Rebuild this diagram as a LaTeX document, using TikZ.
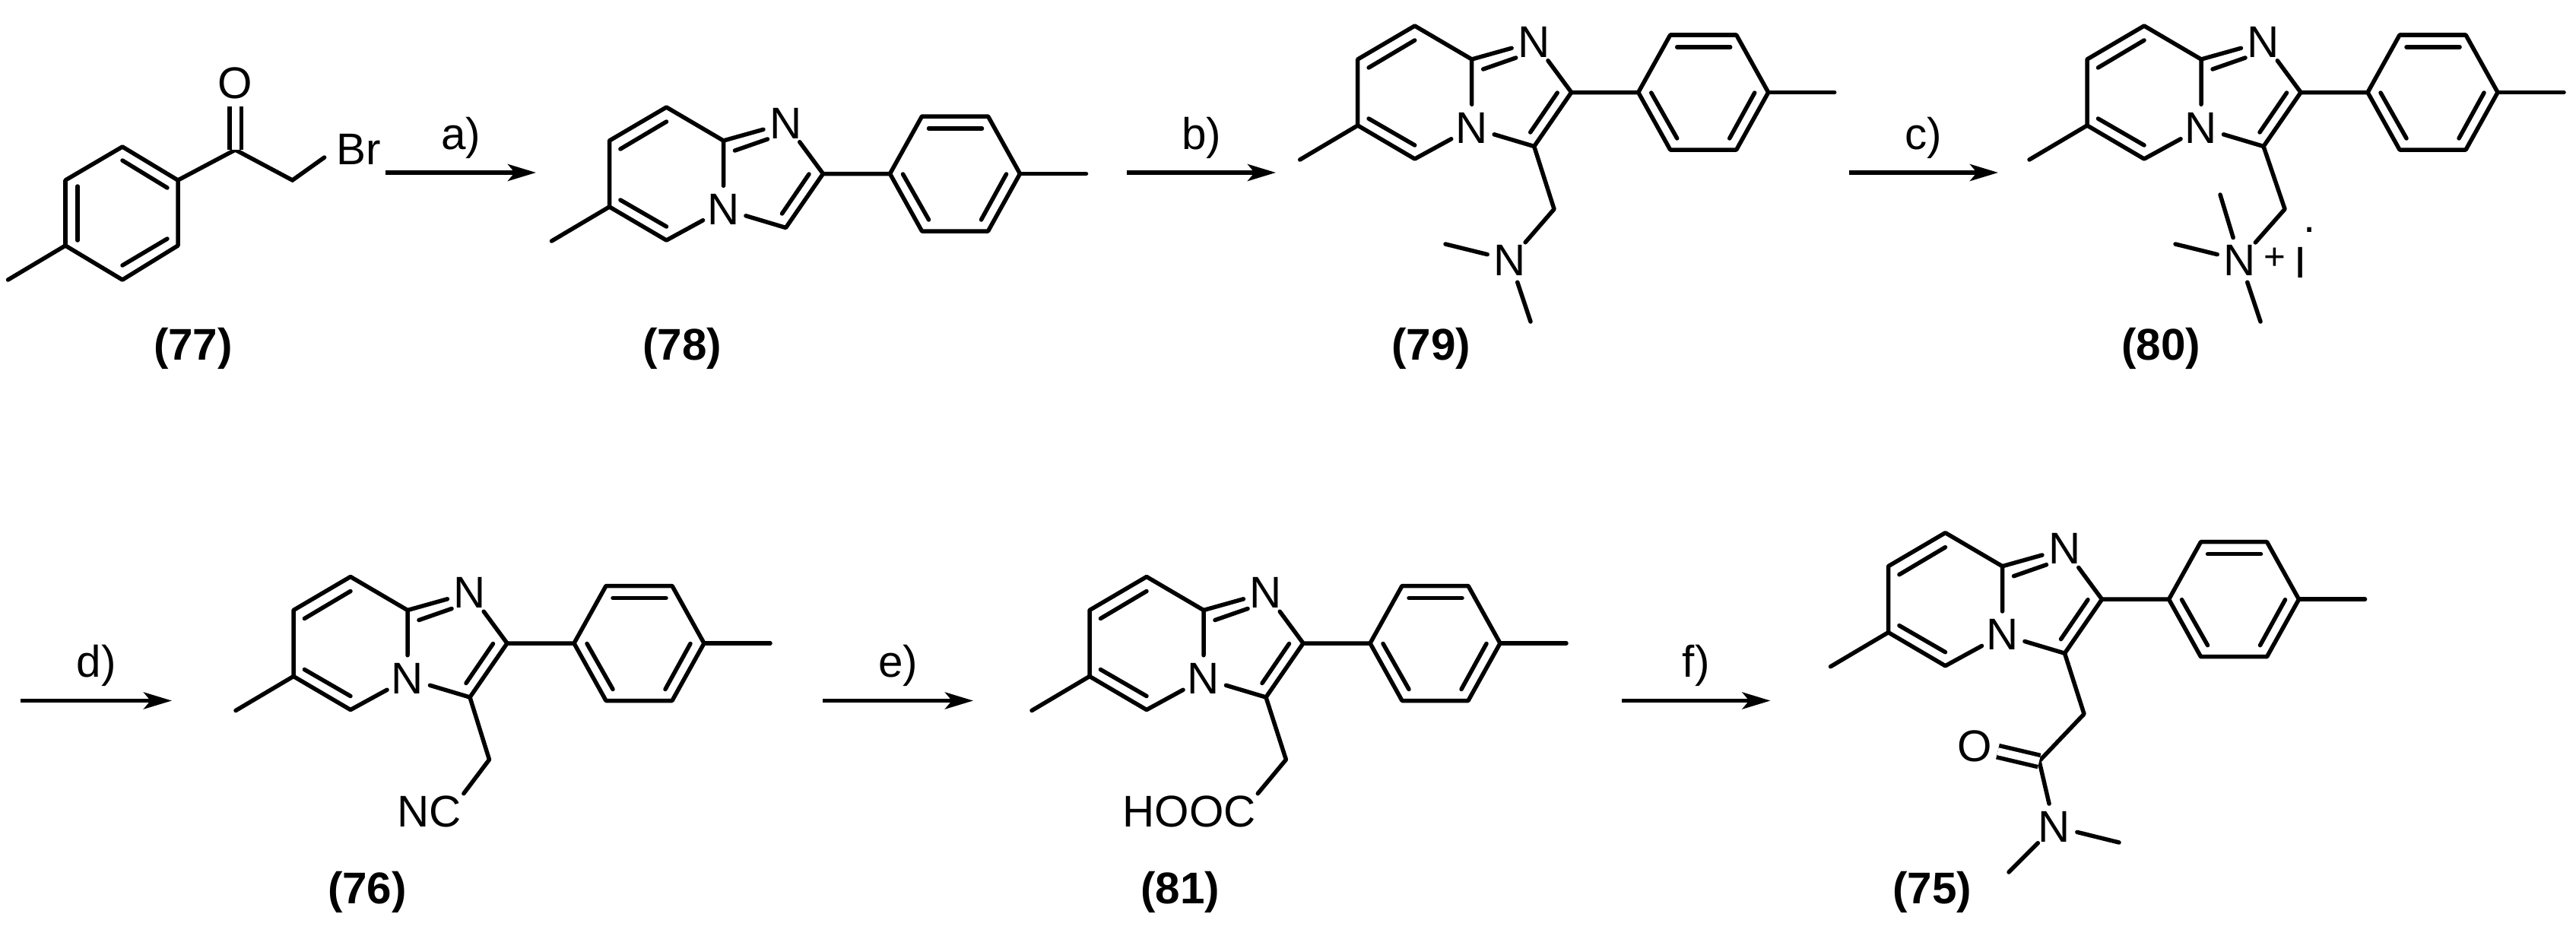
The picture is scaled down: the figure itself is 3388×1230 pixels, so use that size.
\documentclass[tikz,border=0pt]{standalone}
\usepackage{fontspec}
\setmainfont{Liberation Sans}
\usetikzlibrary{arrows.meta,positioning}

\tikzset{
  bond/.style={line width=.055cm,line join=round,line cap=round},
  dbond/.style={bond,line cap=butt,double,double distance=.1cm},
  atom/.style={circle,minimum size=.6cm,inner sep=0pt,font=\fontsize{16.6}{20}\selectfont},
  chem/.style={inner sep=.02cm,font=\fontsize{16.6}{20}\selectfont},
  tag/.style={inner sep=0pt,font=\fontsize{16.6}{20}\selectfont\bfseries},
  rxn/.style={line width=.055cm,-{Stealth[length=.37cm,width=.22cm,inset=.09cm]}}
}

% bicycle with the tolyl group, #1 = prefix, (#2,#3) = top corner of the six-ring
\newcommand{\corering}[3]{
  \begin{scope}[shift={(#2,#3)}]
    \coordinate (#1top) at (0,0);
    \coordinate (#1ul) at (-75,44);
    \coordinate (#1ll) at (-75,131);
    \coordinate (#1bot) at (0,175);
    \coordinate (#1me) at (-151,176);
    \coordinate (#1ca) at (75,44);
    \coordinate (#1ctwo) at (206,87.5);
    \coordinate (#1cthree) at (157,158.5);
    \node[atom] (#1nb) at (75,134) {N};
    \node[atom] (#1nt) at (157,21) {N};
    \coordinate (#1l) at (294,87.5);
    \coordinate (#1tl) at (336,12);
    \coordinate (#1tr) at (423,12);
    \coordinate (#1r) at (465,87.5);
    \coordinate (#1br) at (423,163);
    \coordinate (#1bl) at (336,163);
    \coordinate (#1mer) at (552,87.5);
    \draw[bond] (#1me) -- (#1ll) -- (#1ul) -- (#1top) -- (#1ca) -- (#1nb);
    \draw[bond] (#1ll) -- (#1bot) -- (#1nb) -- (#1cthree) -- (#1ctwo) -- (#1nt) -- (#1ca);
    \draw[bond] (0,19) -- (-60.6,55);
    \draw[bond] (-60.6,122) -- (0,157);
    \draw[bond] (90,57) -- (133,42);
    \draw[bond] (187.5,88) -- (152,140);
    \draw[bond] (#1ctwo) -- (#1l) -- (#1tl) -- (#1tr) -- (#1r) -- (#1br) -- (#1bl) -- (#1l);
    \draw[bond] (#1r) -- (#1mer);
    \draw[bond] (345,28) -- (415,28);
    \draw[bond] (311,88) -- (345,148);
    \draw[bond] (447,88) -- (414,148);
  \end{scope}
}

\begin{document}
\begin{tikzpicture}[x=.01cm,y=-.01cm]
  \useasboundingbox (0,0) rectangle (3388,1230);

  % (77)
  \coordinate (rt) at (161,193);
  \coordinate (rur) at (234,237);
  \coordinate (rlr) at (234,323);
  \coordinate (rb) at (161,368);
  \coordinate (rll) at (86,323);
  \coordinate (rul) at (86,237);
  \coordinate (rme) at (10.5,368);
  \coordinate (cone) at (309.5,197);
  \coordinate (chtwo) at (384.6,237);
  \node[atom] (oxo) at (309.5,109) {O};
  \node[chem,inner sep=0pt] (brom) at (472,196) {Br};
  \draw[bond] (rme) -- (rll) -- (rul) -- (rt) -- (rur) -- (rlr) -- (rb) -- (rll);
  \draw[bond] (rur) -- (cone) -- (chtwo);
  \draw[bond,shorten >=.19cm] (chtwo) -- (brom.west);
  \draw[dbond] (oxo) -- (cone);
  \draw[bond] (161,211) -- (220,247);
  \draw[bond] (102,245) -- (102,316);
  \draw[bond] (161,349) -- (220,314);
  \node[tag] (t77) at (254,458) {(77)};

  % (78)
  \corering{mb}{876.5}{141}
  \node[tag] (t78) at (897,458) {(78)};

  % (79)
  \corering{mc}{1860.7}{34}
  \coordinate (mcch) at (2044,275);
  \node[atom] (mcn) at (1986,342) {N};
  \coordinate (mcmea) at (1901,321);
  \coordinate (mcmeb) at (2013,423);
  \draw[bond] (mccthree) -- (mcch) -- (mcn);
  \draw[bond] (mcn) -- (mcmea);
  \draw[bond] (mcn) -- (mcmeb);
  \node[tag] (t79) at (1882,458) {(79)};

  % (80)
  \corering{md}{2820}{34}
  \coordinate (mdch) at (3005,275);
  \node[atom] (mdn) at (2946,342) {N};
  \node[chem,font=\fontsize{14}{16}\selectfont] (plus) at (2992,340) {+};
  \node[chem] (iod) at (3026,345) {I};
  \node[chem,inner sep=0pt] (dot) at (3038,302) {.};
  \coordinate (mdmea) at (2861,321);
  \coordinate (mdmeb) at (2973,423);
  \coordinate (mdmec) at (2920,256);
  \draw[bond] (mdcthree) -- (mdch) -- (mdn);
  \draw[bond] (mdn) -- (mdmea);
  \draw[bond] (mdn) -- (mdmeb);
  \draw[bond] (mdn) -- (mdmec);
  \node[tag] (t80) at (2842,458) {(80)};

  % (76)
  \corering{me}{461}{758.5}
  \coordinate (mech) at (643.5,999);
  \node[chem] (nitrile) at (565,1067) {NC};
  \draw[bond] (mecthree) -- (mech) -- (nitrile.north east);
  \node[tag] (t76) at (483,1173) {(76)};

  % (81)
  \corering{mf}{1508}{758.5}
  \coordinate (mfch) at (1691.4,999);
  \node[chem] (acid) at (1564,1067) {HOOC};
  \draw[bond] (mfcthree) -- (mfch) -- (acid.north east);
  \node[tag] (t81) at (1552,1173) {(81)};

  % (75)
  \corering{mg}{2558.5}{700.7}
  \coordinate (mgch) at (2741,939);
  \coordinate (mgco) at (2682,1001);
  \node[atom] (mgo) at (2597,981) {O};
  \node[atom] (mgn) at (2702,1087) {N};
  \coordinate (mgmea) at (2787,1108);
  \coordinate (mgmeb) at (2642,1147);
  \draw[bond] (mgcthree) -- (mgch) -- (mgco) -- (mgn);
  \draw[dbond] (mgo) -- (mgco);
  \draw[bond] (mgn) -- (mgmea);
  \draw[bond] (mgn) -- (mgmeb);
  \node[tag] (t75) at (2541,1173) {(75)};

  % arrows
  \coordinate (aa) at (507,227);   \coordinate (ab) at (705,227);
  \coordinate (ba) at (1482,227);  \coordinate (bb) at (1678,227);
  \coordinate (ca) at (2431.5,227);\coordinate (cb) at (2628,227);
  \coordinate (da) at (27,921.5);  \coordinate (db) at (226,921.5);
  \coordinate (ea) at (1082,921.5);\coordinate (eb) at (1280,921.5);
  \coordinate (fa) at (2133,921.5);\coordinate (fb) at (2328.5,921.5);
  \draw[rxn] (aa) -- node[chem,above=.14cm] (la) {a)} (ab);
  \draw[rxn] (ba) -- node[chem,above=.14cm] (lb) {b)} (bb);
  \draw[rxn] (ca) -- node[chem,above=.14cm] (lc) {c)} (cb);
  \draw[rxn] (da) -- node[chem,above=.14cm] (ld) {d)} (db);
  \draw[rxn] (ea) -- node[chem,above=.14cm] (le) {e)} (eb);
  \draw[rxn] (fa) -- node[chem,above=.14cm] (lf) {f)} (fb);
\end{tikzpicture}
\end{document}
